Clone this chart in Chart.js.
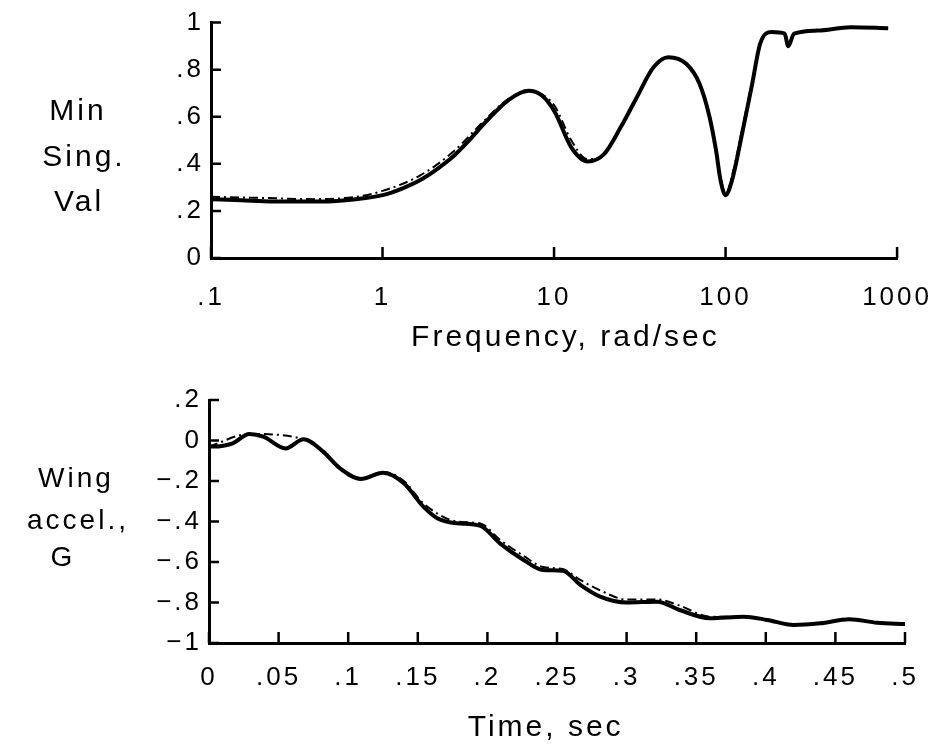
<!DOCTYPE html>
<html>
<head>
<meta charset="utf-8">
<script src="https://cdn.jsdelivr.net/npm/chart.js@4.4.1/dist/chart.umd.min.js"></script>
<style>
  html, body { margin: 0; padding: 0; background: #fff; }
  #wrap { position: relative; width: 950px; height: 747px; }
  canvas { position: absolute; left: 0; }
  .ytitle {
    position: absolute;
    font-family: "Liberation Sans", Arial, sans-serif;
    letter-spacing: 3px;
    color: #000;
    white-space: nowrap;
    transform: translateX(-50%);
  }
</style>
</head>
<body>
<div id="wrap">
  <canvas id="topChart" width="950" height="370" style="top:0"></canvas>
  <canvas id="botChart" width="950" height="377" style="top:370px"></canvas>

  <div class="ytitle" style="left:78px;top:95px;font-size:30px;line-height:30px">Min</div>
  <div class="ytitle" style="left:84px;top:141px;font-size:30px;line-height:30px">Sing.</div>
  <div class="ytitle" style="left:79px;top:186px;font-size:30px;line-height:30px">Val</div>

  <div class="ytitle" style="left:76px;top:464px;font-size:28px;line-height:28px">Wing</div>
  <div class="ytitle" style="left:78px;top:506px;font-size:28px;line-height:28px">accel.,</div>
  <div class="ytitle" style="left:63px;top:543px;font-size:28px;line-height:28px">G</div>
</div>

<script>
// top panel: minimum singular value vs frequency (rad/sec)
const freq = [0.1, 0.15, 0.23, 0.44, 0.7, 1, 1.3, 1.65, 2.1, 2.57, 3.2, 4, 5.4, 7.1, 8.5, 10.1, 12.6, 15.7, 19.5, 24.5, 30.4, 38, 46.4, 59, 70.5, 80.6, 88, 93.5, 100, 109, 125, 143, 159, 186, 221, 232, 251, 345, 537, 887];
const minSV = [0.25, 0.245, 0.24, 0.24, 0.25, 0.267, 0.295, 0.33, 0.38, 0.43, 0.50, 0.578, 0.67, 0.71, 0.69, 0.62, 0.47, 0.41, 0.44, 0.556, 0.683, 0.81, 0.853, 0.825, 0.74, 0.6, 0.457, 0.33, 0.267, 0.33, 0.53, 0.74, 0.91, 0.96, 0.953, 0.90, 0.953, 0.966, 0.98, 0.976];
const freqAlt = [0.1, 0.2, 0.4, 0.7, 1, 1.65, 2.57, 4, 5.4, 7.1, 8.5, 10.1, 12.6, 15.7, 19.5, 24.5, 30.4, 38, 46.4, 59, 70.5, 80.6, 88, 95, 101, 110, 126, 143, 159, 186, 221, 232, 251, 345, 537, 887];
const minSVAlt = [0.26, 0.255, 0.25, 0.26, 0.285, 0.35, 0.45, 0.59, 0.675, 0.705, 0.695, 0.645, 0.50, 0.42, 0.44, 0.556, 0.683, 0.81, 0.853, 0.825, 0.74, 0.6, 0.457, 0.32, 0.275, 0.36, 0.56, 0.75, 0.91, 0.96, 0.953, 0.90, 0.953, 0.966, 0.98, 0.976];
const freqTicks = [0.1, 1, 10, 100, 1000];
const svTicks = [0, 0.2, 0.4, 0.6, 0.8, 1];

// bottom panel: wing acceleration (G) vs time (sec)
const time = [0, 0.003, 0.017, 0.029, 0.039, 0.055, 0.068, 0.082, 0.094, 0.109, 0.125, 0.14, 0.154, 0.164, 0.178, 0.195, 0.209, 0.226, 0.24, 0.254, 0.267, 0.281, 0.30, 0.322, 0.338, 0.36, 0.384, 0.401, 0.42, 0.439, 0.46, 0.48, 0.5];
const accel = [-0.03, -0.03, -0.014, 0.032, 0.019, -0.039, 0.006, -0.055, -0.137, -0.19, -0.159, -0.211, -0.327, -0.384, -0.409, -0.422, -0.508, -0.59, -0.64, -0.643, -0.714, -0.771, -0.80, -0.796, -0.837, -0.878, -0.87, -0.886, -0.911, -0.903, -0.883, -0.9, -0.906];
const timeAlt = [0, 0.029, 0.068, 0.109, 0.125, 0.14, 0.154, 0.178, 0.195, 0.209, 0.226, 0.24, 0.254, 0.267, 0.281, 0.30, 0.322, 0.338, 0.36, 0.384];
const accelAlt = [-0.03, 0.032, 0.006, -0.19, -0.155, -0.2, -0.31, -0.40, -0.41, -0.49, -0.57, -0.625, -0.635, -0.69, -0.74, -0.785, -0.785, -0.815, -0.87, -0.87];

const xy = (xs, ys) => xs.map((x, i) => ({ x: x, y: ys[i] }));
const tickFont = { family: '"Liberation Sans", Arial, sans-serif', size: 26 };
const titleFont = { family: '"Liberation Sans", Arial, sans-serif', size: 30 };

// ticks drawn inward from the axes, like the original plot
const inwardTicks = {
  id: 'inwardTicks',
  beforeDraw(chart) {
    chart.ctx.letterSpacing = '3px';
  },
  afterDraw(chart) {
    const ctx = chart.ctx;
    const area = chart.chartArea;
    ctx.save();
    ctx.strokeStyle = '#000';
    ctx.lineWidth = 2.5;
    ctx.beginPath();
    chart.scales.x.ticks.forEach(t => {
      const px = chart.scales.x.getPixelForValue(t.value);
      ctx.moveTo(px, area.bottom);
      ctx.lineTo(px, area.bottom - 11);
    });
    chart.scales.y.ticks.forEach(t => {
      const py = chart.scales.y.getPixelForValue(t.value);
      ctx.moveTo(area.left, py);
      ctx.lineTo(area.left + 10, py);
    });
    ctx.stroke();
    ctx.restore();
  }
};

const solid = { borderColor: '#000', borderWidth: 4, pointRadius: 0, cubicInterpolationMode: 'monotone', fill: false };
const dashDot = { borderColor: '#000', borderWidth: 2, borderDash: [9, 4, 2, 4], pointRadius: 0, cubicInterpolationMode: 'monotone', fill: false };

new Chart(document.getElementById('topChart'), {
  type: 'line',
  data: {
    datasets: [
      Object.assign({ label: 'alt', data: xy(freqAlt, minSVAlt) }, dashDot),
      Object.assign({ label: 'min sv', data: xy(freq, minSV) }, solid)
    ]
  },
  options: {
    responsive: false,
    animation: false,
    devicePixelRatio: 1,
    layout: { padding: { top: 22, right: 43, bottom: 14, left: 0 } },
    plugins: { legend: { display: false }, tooltip: { enabled: false } },
    scales: {
      x: {
        type: 'logarithmic',
        min: 0.1,
        max: 1000,
        afterBuildTicks: s => { s.ticks = freqTicks.map(v => ({ value: v })); },
        afterFit: s => { s.height = 98; },
        grid: { display: false, drawTicks: false },
        border: { display: true, color: '#000', width: 3 },
        ticks: {
          color: '#000', font: tickFont, padding: 24, autoSkip: false, maxRotation: 0,
          callback: v => (v < 1 ? '.1' : String(v))
        },
        title: { display: true, text: '  Frequency, rad/sec', color: '#000', font: titleFont, padding: 0 }
      },
      y: {
        min: 0,
        max: 1,
        afterBuildTicks: s => { s.ticks = svTicks.map(v => ({ value: v })); },
        afterFit: s => { s.width = 211; },
        grid: { display: false, drawTicks: false },
        border: { display: true, color: '#000', width: 3 },
        ticks: {
          color: '#000', font: tickFont, padding: 7,
          callback: v => (v === 0 ? '0' : v === 1 ? '1' : v.toFixed(1).replace(/^0/, ''))
        }
      }
    }
  },
  plugins: [inwardTicks]
});

new Chart(document.getElementById('botChart'), {
  type: 'line',
  data: {
    datasets: [
      Object.assign({ label: 'alt', data: xy(timeAlt, accelAlt) }, dashDot),
      Object.assign({ label: 'accel', data: xy(time, accel) }, solid)
    ]
  },
  options: {
    responsive: false,
    animation: false,
    devicePixelRatio: 1,
    layout: { padding: { top: 30, right: 45, bottom: 1, left: 0 } },
    plugins: { legend: { display: false }, tooltip: { enabled: false } },
    scales: {
      x: {
        type: 'linear',
        min: 0,
        max: 0.5,
        afterFit: s => { s.height = 103; },
        grid: { display: false, drawTicks: false },
        border: { display: true, color: '#000', width: 3 },
        ticks: {
          stepSize: 0.05, color: '#000', font: tickFont, padding: 19, autoSkip: false, maxRotation: 0,
          callback: v => (Math.abs(v) < 1e-9 ? '0' : v.toFixed(2).replace(/0$/, '').replace(/^0/, ''))
        },
        title: { display: true, text: 'Time, sec  ', color: '#000', font: titleFont, padding: 0 }
      },
      y: {
        min: -1,
        max: 0.2,
        afterFit: s => { s.width = 209; },
        grid: { display: false, drawTicks: false },
        border: { display: true, color: '#000', width: 3 },
        ticks: {
          stepSize: 0.2, color: '#000', font: tickFont, padding: 7,
          callback: v => {
            if (Math.abs(v) < 1e-9) return '0';
            let s = Math.abs(v).toFixed(1).replace(/^0/, '');
            if (s === '1.0') s = '1';
            return (v < 0 ? '\u2212' : '') + s;
          }
        }
      }
    }
  },
  plugins: [inwardTicks]
});
</script>
</body>
</html>
